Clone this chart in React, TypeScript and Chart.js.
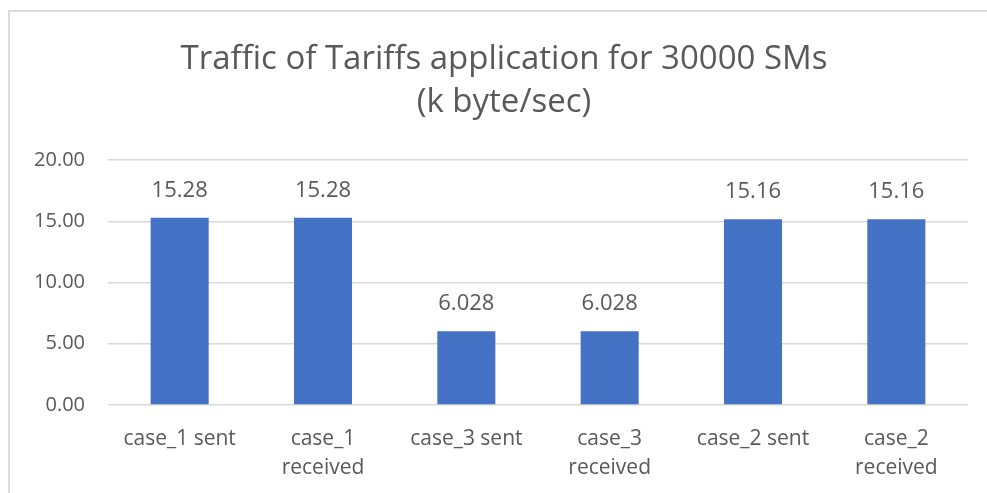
import React, { useEffect, useRef } from "react";
import { Chart, registerables } from "chart.js";

Chart.register(...registerables);

const categories: (string | string[])[] = [
  "case_1 sent",
  ["case_1", "received"],
  "case_3 sent",
  ["case_3", "received"],
  "case_2 sent",
  ["case_2", "received"],
];
const trafficValues: number[] = [15.28, 15.28, 6.028, 6.028, 15.16, 15.16];
const valueLabels: string[] = ["15.28", "15.28", "6.028", "6.028", "15.16", "15.16"];
const titleLines: string[] = ["Traffic of Tariffs application for 30000 SMs", "(k byte/sec)"];

const FONT = "'Open Sans', 'Liberation Sans', sans-serif";
const TEXT = "#595959";

const dataLabelPlugin = {
  id: "dataLabels",
  afterDatasetsDraw(chart: any) {
    const ctx = chart.ctx;
    const meta = chart.getDatasetMeta(0);
    ctx.save();
    ctx.font = `22px ${FONT}`;
    ctx.fillStyle = TEXT;
    ctx.textAlign = "center";
    ctx.textBaseline = "alphabetic";
    meta.data.forEach((bar: any, i: number) => {
      ctx.fillText(valueLabels[i], bar.x, bar.y - 21);
    });
    ctx.restore();
  },
};

const titlePlugin = {
  id: "customTitle",
  afterDraw(chart: any) {
    const ctx = chart.ctx;
    ctx.save();
    ctx.font = `33px ${FONT}`;
    ctx.fillStyle = TEXT;
    ctx.textAlign = "center";
    ctx.textBaseline = "middle";
    titleLines.forEach((line, i) => {
      ctx.fillText(line, 504, 60 + i * 43);
    });
    ctx.restore();
  },
};

export default function App() {
  const ref = useRef<HTMLCanvasElement | null>(null);
  useEffect(() => {
    if (!ref.current) return;
    const chart = new Chart(ref.current, {
      type: "bar",
      data: {
        labels: categories,
        datasets: [
          {
            data: trafficValues,
            backgroundColor: "#4472C4",
            borderWidth: 0,
            categoryPercentage: 1,
            barPercentage: 0.405,
          },
        ],
      },
      options: {
        animation: false,
        responsive: false,
        maintainAspectRatio: false,
        layout: { padding: { left: 0, right: 19, top: 160, bottom: 0 } },
        plugins: {
          legend: { display: false },
          tooltip: { enabled: false },
          title: { display: false },
        },
        scales: {
          x: {
            grid: { display: false, drawTicks: false },
            border: { display: false },
            ticks: {
              color: TEXT,
              font: { family: FONT, size: 21, lineHeight: 1.38 },
              padding: 19.5,
              maxRotation: 0,
              autoSkip: false,
            },
            afterFit(scale: any) {
              scale.height = 88;
            },
          },
          y: {
            min: 0,
            max: 20,
            grid: { color: "#d9d9d9", lineWidth: 1.5, drawTicks: false },
            border: { display: false },
            ticks: {
              stepSize: 5,
              color: TEXT,
              font: { family: FONT, size: 20 },
              padding: 23,
              callback: (v: any) => Number(v).toFixed(2),
            },
            afterFit(scale: any) {
              scale.width = 108;
            },
          },
        },
      },
      plugins: [dataLabelPlugin, titlePlugin],
    });
    return () => chart.destroy();
  }, []);

  return (
    <div style={{ position: "fixed", left: 0, top: 0, width: 987, height: 493, background: "#fff", overflow: "hidden" }}>
      <div
        style={{
          position: "absolute",
          left: 8,
          top: 10,
          width: 1200,
          height: 800,
          borderLeft: "2px solid #dcdcdc",
          borderTop: "2px solid #dcdcdc",
        }}
      />
      <canvas ref={ref} width={987} height={493} style={{ position: "absolute", left: 0, top: 0 }} />
    </div>
  );
}
